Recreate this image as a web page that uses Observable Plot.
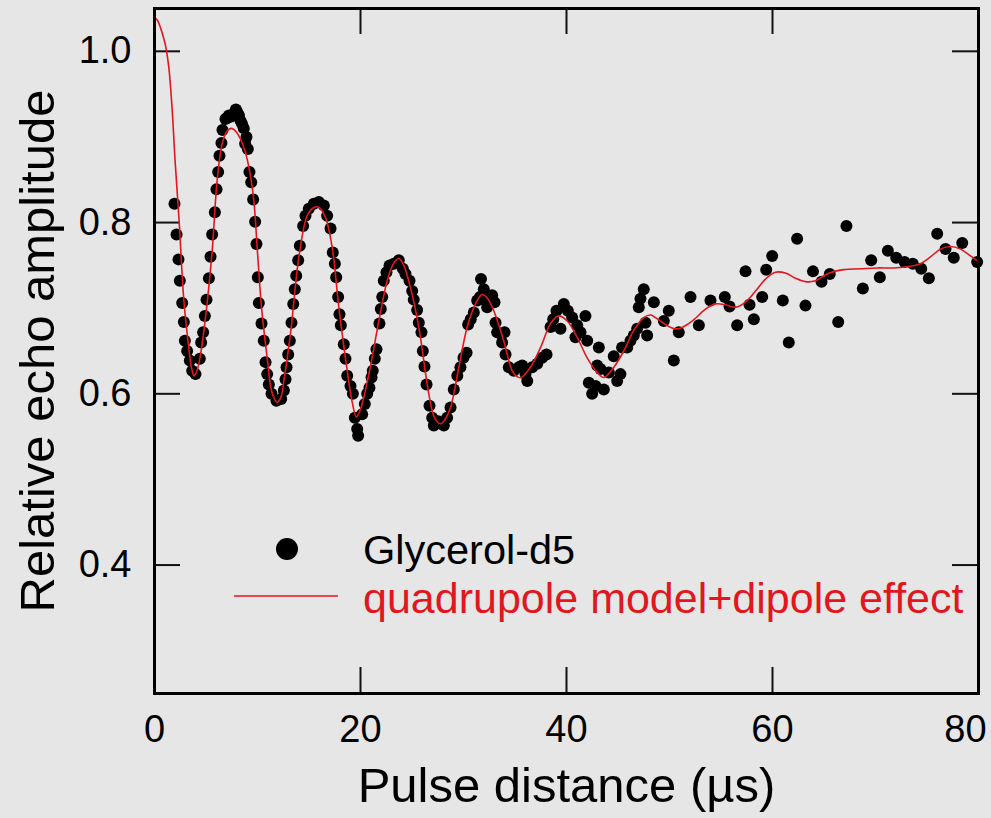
<!DOCTYPE html>
<html>
<head>
<meta charset="utf-8">
<script src="https://cdn.jsdelivr.net/npm/d3@7"></script>
<script src="https://cdn.jsdelivr.net/npm/@observablehq/plot@0.6"></script>
<style>
  html, body { margin: 0; padding: 0; background: #e6e6e6; }
  #chart svg { display: block; }
</style>
</head>
<body>
<div id="chart"></div>
<script>
// Measured echo amplitudes (Glycerol-d5) versus pulse distance in µs
const pulseUs = [
  1.94,2.14,2.33,2.46,2.69,2.85,2.95,3.17,3.43,3.66,3.98,4.40,4.53,4.72,4.89,5.05,5.28,5.44,5.60,5.86,
  6.02,6.18,6.31,6.50,6.60,6.89,7.05,7.22,7.45,7.70,7.90,8.03,8.20,8.35,8.50,8.67,8.80,8.93,9.06,9.22,
  9.39,9.58,9.77,9.90,10.03,10.13,10.39,10.61,10.78,10.94,11.10,11.36,11.84,12.30,12.56,12.72,12.82,12.98,13.14,13.30,
  13.47,13.62,13.76,13.95,14.11,14.43,14.66,14.98,15.47,15.95,16.44,16.76,17.09,17.31,17.51,17.64,17.83,17.96,18.09,18.38,
  18.54,18.71,19.03,19.26,19.45,19.68,19.77,20.16,20.42,20.65,20.87,21.07,21.19,21.39,21.55,21.84,21.97,22.11,22.26,22.52,
  22.82,23.24,23.72,24.11,24.37,24.76,25.02,25.17,25.50,25.66,25.92,26.05,26.21,26.41,26.70,26.96,27.12,27.54,28.09,28.41,
  28.74,29.06,29.40,29.70,30.00,30.30,30.45,30.70,31.00,31.33,31.60,31.70,31.97,32.14,32.30,32.78,33.01,33.11,33.27,33.59,
  33.75,33.98,34.08,34.40,34.89,35.37,35.70,36.02,36.19,36.67,37.16,37.64,38.06,38.45,38.71,39.03,39.42,39.74,40.13,40.55,
  40.87,41.04,41.36,41.84,42.01,42.17,42.49,42.82,42.98,43.14,43.30,43.62,44.11,44.59,44.92,45.24,45.40,45.89,46.21,46.53,
  46.86,47.02,47.18,47.50,47.67,47.83,48.48,49.45,49.93,50.42,50.90,52.04,52.85,53.98,55.37,55.83,56.57,57.38,57.77,58.19,
  59.00,59.39,59.97,61.00,61.58,62.39,63.20,63.93,64.76,65.56,66.38,67.18,68.77,69.58,70.42,71.20,72.01,72.82,73.62,74.44,
  75.18,75.99,76.80,77.60,78.42,79.87
];
const echoAmp = [
  0.822,0.786,0.757,0.732,0.706,0.684,0.662,0.650,0.639,0.627,0.623,0.641,0.660,0.672,0.691,0.710,0.735,0.760,0.786,0.812,
  0.839,0.859,0.878,0.893,0.908,0.921,0.922,0.925,0.924,0.927,0.932,0.929,0.925,0.919,0.915,0.910,0.892,0.900,0.886,0.859,
  0.847,0.827,0.801,0.775,0.736,0.706,0.682,0.662,0.637,0.623,0.611,0.600,0.592,0.594,0.604,0.617,0.631,0.646,0.662,0.683,
  0.705,0.722,0.738,0.756,0.773,0.796,0.808,0.816,0.822,0.824,0.820,0.808,0.793,0.765,0.752,0.736,0.713,0.693,0.680,0.658,
  0.641,0.621,0.609,0.600,0.572,0.559,0.551,0.576,0.588,0.600,0.607,0.619,0.627,0.641,0.652,0.682,0.699,0.713,0.732,0.742,
  0.750,0.752,0.756,0.746,0.740,0.732,0.720,0.710,0.698,0.683,0.672,0.650,0.632,0.611,0.586,0.572,0.563,0.568,0.563,0.572,
  0.584,0.605,0.621,0.631,0.642,0.648,0.681,0.687,0.695,0.709,0.713,0.734,0.722,0.709,0.701,0.715,0.707,0.683,0.672,0.670,
  0.660,0.672,0.646,0.631,0.627,0.631,0.633,0.623,0.615,0.631,0.635,0.642,0.646,0.678,0.687,0.697,0.676,0.705,0.697,0.689,
  0.666,0.680,0.672,0.691,0.662,0.613,0.600,0.609,0.633,0.654,0.629,0.605,0.625,0.644,0.615,0.623,0.654,0.654,0.662,0.668,
  0.676,0.701,0.711,0.722,0.683,0.668,0.707,0.685,0.697,0.639,0.672,0.713,0.680,0.709,0.713,0.702,0.680,0.743,0.704,0.687,
  0.713,0.745,0.761,0.709,0.660,0.781,0.703,0.743,0.731,0.740,0.684,0.796,0.723,0.756,0.736,0.767,0.759,0.754,0.752,0.746,
  0.735,0.787,0.769,0.759,0.776,0.754
];

// Fitted curve: quadrupole model plus dipole effect
const modelUs = [
  0,0.3,0.6,0.9,1.1,1.4,1.7,2.0,2.4,2.85,3.33,3.6,3.85,4.1,4.47,4.95,5.6,6.08,6.57,7.0,
  7.45,8.0,8.67,9.16,9.64,10.0,10.4,10.94,11.4,11.9,12.3,12.56,13.2,14.01,14.82,15.4,15.95,16.6,17.25,17.9,
  18.71,19.2,19.6,20.0,20.81,21.78,22.59,23.2,23.72,24.2,24.85,25.66,26.63,27.2,27.77,28.2,28.74,29.55,30.36,31.17,
  31.8,32.3,32.94,33.9,34.72,35.2,35.6,36.5,37.48,38.45,39.25,40.07,41.04,42.01,42.98,43.62,44.59,45.56,46.53,47.5,
  48.2,48.64,49.61,50.5,51.1,52.2,53.5,54.47,55.44,56.41,57.38,58.35,59.32,60.29,61.26,62.23,63.2,64.17,65.3,66.92,
  68.54,70.16,71.78,73.4,74.37,75.34,76.31,77.28,78.25,79.22,80
];
const modelAmp = [
  1.040,1.036,1.027,1.015,1.005,0.980,0.935,0.872,0.800,0.709,0.654,0.630,0.621,0.626,0.646,0.689,0.767,0.849,0.892,0.906,
  0.910,0.905,0.888,0.865,0.826,0.765,0.700,0.642,0.602,0.590,0.597,0.615,0.670,0.759,0.808,0.817,0.818,0.806,0.771,0.701,
  0.627,0.590,0.573,0.582,0.623,0.685,0.732,0.752,0.758,0.750,0.724,0.678,0.600,0.572,0.565,0.570,0.584,0.631,0.678,0.705,
  0.716,0.712,0.697,0.662,0.627,0.620,0.619,0.631,0.654,0.682,0.691,0.685,0.666,0.642,0.625,0.619,0.631,0.650,0.674,0.689,
  0.692,0.689,0.681,0.676,0.677,0.685,0.699,0.705,0.704,0.701,0.707,0.720,0.734,0.742,0.741,0.735,0.731,0.732,0.740,0.745,
  0.746,0.747,0.747,0.749,0.752,0.760,0.769,0.772,0.769,0.761,0.754
];

const xTicks = [0, 20, 40, 60];
const xLastTick = [80];
const yTicks = [0.4, 0.6, 0.8, 1.0];
const xInner = [20, 40, 60];

const seriesName = "Glycerol-d5";
const modelName = "quadrupole model+dipole effect";
const xTitle = "Pulse distance (\u00b5s)";
const yTitle = "Relative echo amplitude";

const measured = pulseUs.map((x, i) => ({x, y: echoAmp[i]}));
const model = modelUs.map((x, i) => ({x, y: modelAmp[i]}));

const W = 991, H = 818;
const mL = 154, mR = 13, mT = 8, mB = 125;
const plotW = W - mL - mR, plotH = H - mT - mB;
const tickLen = 26;
const red = "#e3161e";
const font = "'Liberation Sans', Arial, Helvetica, sans-serif";

const chart = Plot.plot({
  width: W,
  height: H,
  marginLeft: mL,
  marginRight: mR,
  marginTop: mT,
  marginBottom: mB,
  style: {background: "#e6e6e6", fontFamily: font, color: "#000"},
  x: {domain: [0, 80]},
  y: {domain: [0.25, 1.05]},
  marks: [
    // inward ticks on all four sides
    Plot.tickY(yTicks, {y: d => d, insetRight: plotW - tickLen, stroke: "#111", strokeWidth: 2}),
    Plot.tickY(yTicks, {y: d => d, insetLeft: plotW - tickLen, stroke: "#111", strokeWidth: 2}),
    Plot.tickX(xInner, {x: d => d, insetTop: plotH - tickLen, stroke: "#111", strokeWidth: 2}),
    Plot.tickX(xInner, {x: d => d, insetBottom: plotH - tickLen, stroke: "#111", strokeWidth: 2}),
    Plot.axisX({ticks: xTicks, tickSize: 0, tickPadding: 22, fontSize: 38, tickFormat: d => String(d), label: null}),
    Plot.axisX({ticks: xLastTick, tickSize: 0, tickPadding: 22, dx: -13, fontSize: 38, tickFormat: d => String(d), label: null}),
    Plot.axisY({ticks: yTicks, tickSize: 0, tickPadding: 23, fontSize: 38, tickFormat: d3.format(".1f"), label: null}),
    Plot.text([xTitle], {frameAnchor: "bottom", dy: 93, fontSize: 49, textAnchor: "middle", lineAnchor: "middle", text: d => d}),
    Plot.text([yTitle], {frameAnchor: "left", dx: -116, rotate: -90, fontSize: 49, textAnchor: "middle", lineAnchor: "middle", text: d => d}),
    Plot.dot(measured, {x: "x", y: "y", r: 6, fill: "#000", stroke: "none"}),
    Plot.line(model, {x: "x", y: "y", stroke: red, strokeWidth: 1.6, curve: "catmull-rom", clip: true}),
    Plot.frame({stroke: "#000", strokeWidth: 3})
  ]
});

// legend inside the plot area
const svg = d3.select(chart);
const lg = svg.append("g").attr("font-family", font).attr("text-anchor", "start");
lg.append("circle").attr("cx", 287).attr("cy", 549).attr("r", 11).attr("fill", "#000");
lg.append("text").attr("x", 363).attr("y", 549).attr("dy", "0.35em").attr("font-size", 41.5)
  .attr("fill", "#000").text(seriesName);
lg.append("line").attr("x1", 234).attr("x2", 338).attr("y1", 596).attr("y2", 596)
  .attr("stroke", red).attr("stroke-width", 1.6);
lg.append("text").attr("x", 363).attr("y", 598).attr("dy", "0.35em").attr("font-size", 43)
  .attr("fill", red).text(modelName);

document.getElementById("chart").appendChild(chart);
</script>
</body>
</html>
